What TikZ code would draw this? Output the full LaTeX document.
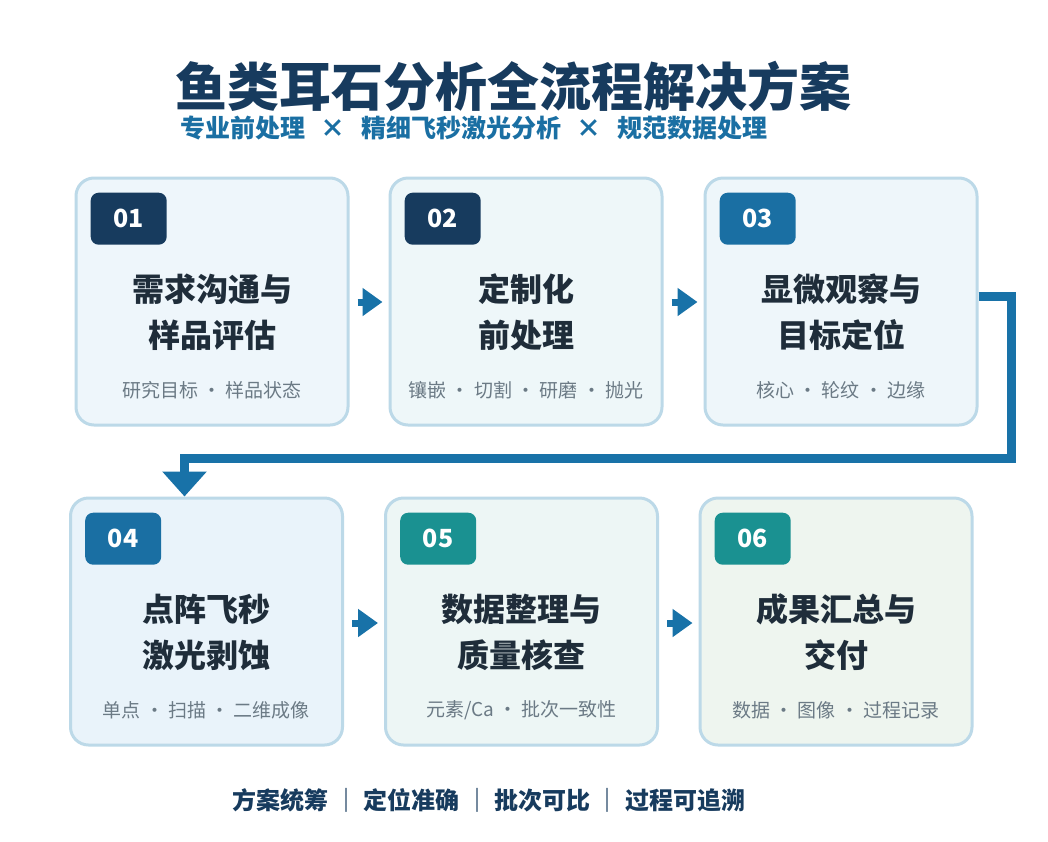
\documentclass[tikz,border=0pt]{standalone}
\usepackage{fontspec}
\setmainfont{Noto Sans CJK SC}
\usetikzlibrary{arrows.meta}
\definecolor{navy}{HTML}{173B5E}
\definecolor{midblue}{HTML}{1A6FA3}
\definecolor{teal}{HTML}{1A9191}
\definecolor{arrowblue}{HTML}{1872A8}
\definecolor{boxline}{HTML}{BCD9E8}
\definecolor{subgray}{HTML}{6B7A85}
\definecolor{titletext}{HTML}{1F2D3A}
\definecolor{fa}{HTML}{EEF6FB}
\definecolor{fb}{HTML}{EEF7F9}
\definecolor{fc}{HTML}{EEF6FA}
\definecolor{fd}{HTML}{E9F3FA}
\definecolor{fe}{HTML}{EDF6F5}
\definecolor{ff}{HTML}{EEF5EF}
\newcommand{\crosssep}{\hspace{0.62em}×\hspace{0.62em}}
\begin{document}
\begin{tikzpicture}[x=1pt,y=-1pt,
  stepbox/.style={draw=boxline, line width=3pt, rounded corners=18pt, minimum width=272pt, minimum height=247pt, inner sep=0pt},
  badge/.style={anchor=north west, rounded corners=8pt, minimum width=76pt, minimum height=52pt, inner sep=0pt, text=white, font=\bfseries\fontsize{25}{25}\selectfont},
  ttl/.style={align=center, text=titletext, font=\bfseries\fontsize{32}{46}\selectfont, inner sep=0pt},
  sub/.style={text=subgray, font=\fontsize{19}{19}\selectfont, inner sep=0pt},
  arr/.style={draw=arrowblue, line width=7pt, -{Triangle[width=27pt,length=20pt]}},
  bigarr/.style={draw=arrowblue, line width=9pt, -{Triangle[width=43pt,length=25pt]}}
]
\useasboundingbox (0,0) rectangle (1048,841);
\fill[white] (0,0) rectangle (1048,841);

\node[text=navy, font=\bfseries\fontsize{52}{52}\selectfont, inner sep=0pt] (title) at (513,86) {鱼类耳石分析全流程解决方案};
\node[text=midblue, font=\bfseries\fontsize{25}{25}\selectfont, inner sep=0pt] (subtitle) at (474,128) {专业前处理\crosssep 精细飞秒激光分析\crosssep 规范数据处理};

% boxes
\node[stepbox, fill=fa] (b1) at (212,301.5) {};
\node[stepbox, fill=fb] (b2) at (526,301.5) {};
\node[stepbox, fill=fc] (b3) at (841,301.5) {};
\node[stepbox, fill=fd] (b4) at (206.5,621.5) {};
\node[stepbox, fill=fe] (b5) at (521.5,621.5) {};
\node[stepbox, fill=ff] (b6) at (836,621.5) {};

% badges
\node[badge, fill=navy] (n1) at ([shift={(16,16)}]b1.north west) {01};
\node[badge, fill=navy] (n2) at ([shift={(16,16)}]b2.north west) {02};
\node[badge, fill=midblue] (n3) at ([shift={(16,16)}]b3.north west) {03};
\node[badge, fill=midblue] (n4) at ([shift={(16,16)}]b4.north west) {04};
\node[badge, fill=teal] (n5) at ([shift={(16,16)}]b5.north west) {05};
\node[badge, fill=teal] (n6) at ([shift={(16,16)}]b6.north west) {06};

% titles
\node[ttl] (t1) at ([yshift=-136]b1.north) {需求沟通与\\样品评估};
\node[ttl] (t2) at ([yshift=-136]b2.north) {定制化\\前处理};
\node[ttl] (t3) at ([yshift=-136]b3.north) {显微观察与\\目标定位};
\node[ttl] (t4) at ([yshift=-136]b4.north) {点阵飞秒\\激光剥蚀};
\node[ttl] (t5) at ([yshift=-136]b5.north) {数据整理与\\质量核查};
\node[ttl] (t6) at ([yshift=-136]b6.north) {成果汇总与\\交付};

% subtitles
\node[sub] (s1) at ([yshift=-214]b1.north) {研究目标 · 样品状态};
\node[sub] (s2) at ([yshift=-214]b2.north) {镶嵌 · 切割 · 研磨 · 抛光};
\node[sub] (s3) at ([yshift=-214]b3.north) {核心 · 轮纹 · 边缘};
\node[sub] (s4) at ([yshift=-214]b4.north) {单点 · 扫描 · 二维成像};
\node[sub] (s5) at ([yshift=-214]b5.north) {元素/Ca · 批次一致性};
\node[sub] (s6) at ([yshift=-214]b6.north) {数据 · 图像 · 过程记录};

% short arrows
\draw[arr] ([xshift=8pt,yshift=-0.5pt]b1.east) -- ([xshift=-6pt,yshift=-0.5pt]b2.west);
\draw[arr] ([xshift=8pt,yshift=-0.5pt]b2.east) -- ([xshift=-6pt,yshift=-0.5pt]b3.west);
\draw[arr] ([xshift=8pt,yshift=-1.5pt]b4.east) -- ([xshift=-6pt,yshift=-1.5pt]b5.west);
\draw[arr] ([xshift=8pt,yshift=-1.5pt]b5.east) -- ([xshift=-6pt,yshift=-1.5pt]b6.west);

% big connector
\coordinate (c1) at ([yshift=5.5pt]b3.east);
\coordinate (c2) at (1011,458);
\coordinate (c3) at (184.5,458);
\draw[bigarr] (c1) -| (c2) -- (c3) -- (c3 |- b4.north);

\node[text=navy, font=\bfseries\fontsize{24}{24}\selectfont, inner sep=0pt] (footer) at (489,800) {方案统筹 ｜ 定位准确 ｜ 批次可比 ｜ 过程可追溯};
\end{tikzpicture}
\end{document}
